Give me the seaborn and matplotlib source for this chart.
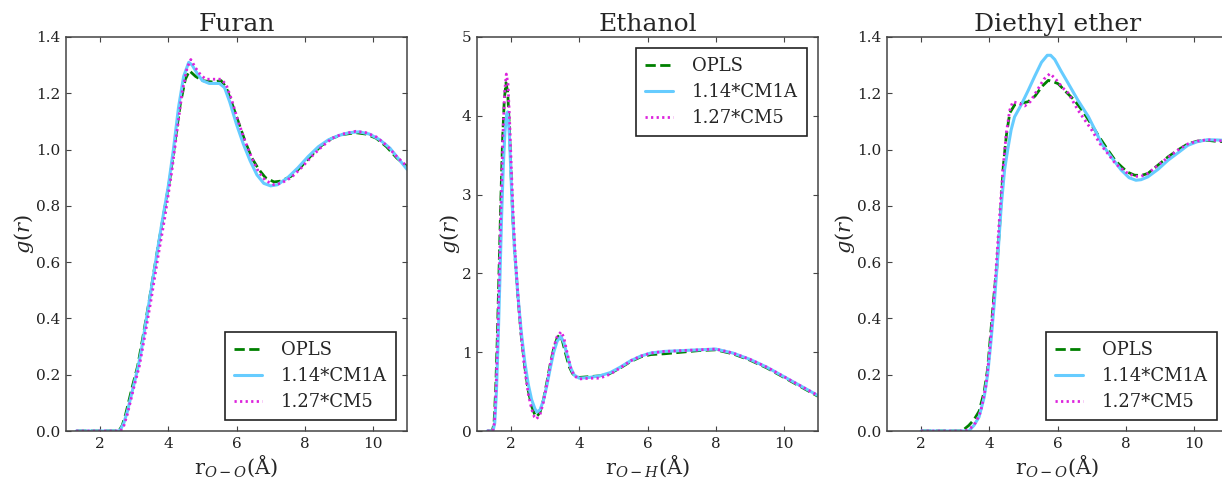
import numpy as np
import pandas as pd
import matplotlib
matplotlib.use("Agg")
import matplotlib.pyplot as plt
import seaborn as sns

# ---------------- data: radial distribution functions g(r) ----------------
series_names = ["OPLS", "1.14*CM1A", "1.27*CM5"]
panel_titles = ["Furan", "Ethanol", "Diethyl ether"]
x_labels = [r"r$_{O-O}$(Å)", r"r$_{O-H}$(Å)", r"r$_{O-O}$(Å)"]

# Furan, O-O
furan_opls_r = [1.3, 2.55, 2.65, 2.75, 2.85, 2.95, 3.1, 3.25, 3.45, 3.65, 3.85, 3.95, 4.05, 4.2, 4.35, 4.5, 4.62,
                4.8, 5.0, 5.3, 5.55, 5.7, 5.85, 6.05, 6.25, 6.45, 6.65, 6.85, 7.1, 7.3, 7.6, 7.9, 8.2, 8.5, 8.8,
                9.1, 9.5, 9.8, 10.1, 10.4, 10.7, 11.0]
furan_opls_g = [0.0, 0.0, 0.02, 0.06, 0.11, 0.16, 0.23, 0.33, 0.47, 0.62, 0.76, 0.83, 0.9, 1.03, 1.16, 1.25, 1.28,
                1.26, 1.245, 1.24, 1.245, 1.22, 1.17, 1.1, 1.03, 0.97, 0.93, 0.9, 0.885, 0.888, 0.905, 0.94, 0.98,
                1.015, 1.04, 1.053, 1.06, 1.055, 1.04, 1.01, 0.97, 0.94]
furan_cm1a_r = [1.3, 2.55, 2.6, 2.7, 2.8, 2.9, 3.0, 3.1, 3.2, 3.4, 3.6, 3.8, 3.9, 4.0, 4.15, 4.3, 4.45, 4.6, 4.7,
                4.85, 5.0, 5.2, 5.5, 5.65, 5.8, 6.0, 6.2, 6.4, 6.6, 6.8, 7.0, 7.2, 7.5, 7.8, 8.1, 8.4, 8.7, 9.0,
                9.3, 9.6, 9.9, 10.2, 10.5, 10.8, 11.0]
furan_cm1a_g = [0.0, 0.0, 0.005, 0.03, 0.07, 0.12, 0.17, 0.22, 0.28, 0.43, 0.58, 0.73, 0.8, 0.87, 1.0, 1.15, 1.26,
                1.31, 1.3, 1.27, 1.245, 1.235, 1.235, 1.22, 1.17, 1.09, 1.02, 0.96, 0.91, 0.88, 0.871, 0.875, 0.9,
                0.935, 0.975, 1.01, 1.035, 1.05, 1.06, 1.063, 1.055, 1.035, 1.005, 0.96, 0.93]
furan_cm5_r = [1.3, 2.6, 2.7, 2.8, 2.9, 3.0, 3.15, 3.3, 3.5, 3.7, 3.9, 4.0, 4.1, 4.25, 4.4, 4.55, 4.66, 4.8, 4.95,
               5.1, 5.3, 5.55, 5.7, 5.85, 6.05, 6.25, 6.45, 6.65, 6.85, 7.1, 7.3, 7.6, 7.9, 8.2, 8.5, 8.8, 9.1,
               9.5, 9.8, 10.1, 10.4, 10.7, 11.0]
furan_cm5_g = [0.0, 0.0, 0.02, 0.06, 0.11, 0.16, 0.23, 0.33, 0.47, 0.62, 0.76, 0.84, 0.92, 1.06, 1.2, 1.29, 1.32,
               1.29, 1.265, 1.25, 1.25, 1.25, 1.23, 1.18, 1.1, 1.03, 0.97, 0.92, 0.89, 0.875, 0.88, 0.9, 0.935,
               0.975, 1.01, 1.04, 1.055, 1.065, 1.06, 1.045, 1.015, 0.975, 0.94]

# Ethanol, O-H
ethanol_opls_r = [1.3, 1.45, 1.5, 1.55, 1.6, 1.65, 1.7, 1.75, 1.8, 1.85, 1.9, 1.95, 2.0, 2.05, 2.1, 2.2, 2.3, 2.4,
                  2.5, 2.6, 2.7, 2.75, 2.85, 2.95, 3.05, 3.15, 3.25, 3.35, 3.42, 3.5, 3.6, 3.7, 3.8, 3.9, 4.0,
                  4.3, 4.6, 4.9, 5.2, 5.5, 5.8, 6.1, 6.5, 7.0, 7.5, 8.0, 8.5, 9.0, 9.5, 10.0, 10.5, 11.0]
ethanol_opls_g = [0.0, 0.0, 0.1, 0.55, 1.25, 2.1, 2.95, 3.7, 4.2, 4.42, 4.3, 3.85, 3.25, 2.7, 2.3, 1.7, 1.2, 0.82,
                  0.52, 0.32, 0.2, 0.18, 0.24, 0.4, 0.62, 0.85, 1.05, 1.18, 1.22, 1.15, 0.98, 0.82, 0.73, 0.69,
                  0.68, 0.69, 0.7, 0.73, 0.8, 0.88, 0.94, 0.97, 0.98, 1.0, 1.02, 1.03, 0.98, 0.9, 0.8, 0.68,
                  0.56, 0.44]
ethanol_cm1a_r = [1.3, 1.47, 1.52, 1.57, 1.62, 1.67, 1.72, 1.77, 1.82, 1.87, 1.9, 1.95, 2.0, 2.05, 2.1, 2.2, 2.3,
                  2.4, 2.5, 2.6, 2.7, 2.76, 2.85, 2.95, 3.05, 3.15, 3.25, 3.35, 3.46, 3.55, 3.65, 3.75, 3.85,
                  4.0, 4.3, 4.6, 4.9, 5.2, 5.5, 5.8, 6.1, 6.5, 7.0, 7.5, 8.0, 8.5, 9.0, 9.5, 10.0, 10.5, 11.0]
ethanol_cm1a_g = [0.0, 0.0, 0.1, 0.5, 1.15, 1.9, 2.7, 3.35, 3.8, 4.02, 4.05, 3.75, 3.2, 2.7, 2.3, 1.72, 1.25,
                  0.88, 0.6, 0.4, 0.28, 0.24, 0.27, 0.39, 0.58, 0.8, 1.0, 1.14, 1.2, 1.12, 0.95, 0.8, 0.71,
                  0.67, 0.68, 0.7, 0.74, 0.81, 0.89, 0.95, 0.99, 1.01, 1.02, 1.03, 1.04, 0.99, 0.91, 0.81,
                  0.69, 0.57, 0.45]
ethanol_cm5_r = [1.3, 1.46, 1.51, 1.56, 1.61, 1.66, 1.71, 1.76, 1.81, 1.86, 1.91, 1.96, 2.01, 2.06, 2.11, 2.2,
                 2.3, 2.4, 2.5, 2.6, 2.68, 2.74, 2.85, 2.95, 3.05, 3.15, 3.25, 3.35, 3.47, 3.55, 3.65, 3.75,
                 3.85, 4.0, 4.3, 4.6, 4.9, 5.2, 5.5, 5.8, 6.1, 6.5, 7.0, 7.5, 8.0, 8.5, 9.0, 9.5, 10.0, 10.5,
                 11.0]
ethanol_cm5_g = [0.0, 0.0, 0.1, 0.55, 1.25, 2.1, 2.95, 3.75, 4.3, 4.53, 4.4, 3.9, 3.3, 2.75, 2.32, 1.72, 1.18,
                 0.78, 0.48, 0.28, 0.18, 0.15, 0.21, 0.37, 0.6, 0.85, 1.06, 1.2, 1.26, 1.18, 0.98, 0.8, 0.7,
                 0.66, 0.67, 0.67, 0.72, 0.8, 0.89, 0.95, 0.99, 1.01, 1.02, 1.03, 1.04, 0.99, 0.91, 0.81, 0.69,
                 0.57, 0.45]

# Diethyl ether, O-O
ether_opls_r = [2.0, 3.2, 3.3, 3.4, 3.55, 3.7, 3.85, 3.95, 4.05, 4.15, 4.22, 4.3, 4.41, 4.5, 4.6, 4.75, 4.95,
                5.14, 5.34, 5.55, 5.73, 5.9, 6.02, 6.25, 6.5, 6.75, 6.99, 7.25, 7.48, 7.7, 7.87, 8.05, 8.26,
                8.45, 8.65, 8.95, 9.24, 9.55, 9.82, 10.1, 10.4, 10.6, 11.0]
ether_opls_g = [0.0, 0.0, 0.01, 0.02, 0.04, 0.07, 0.14, 0.22, 0.36, 0.5, 0.58, 0.72, 0.94, 1.05, 1.13, 1.16, 1.165,
                1.17, 1.19, 1.225, 1.246, 1.24, 1.234, 1.205, 1.175, 1.135, 1.09, 1.04, 0.998, 0.96, 0.94, 0.92,
                0.909, 0.908, 0.915, 0.945, 0.974, 1.0, 1.02, 1.03, 1.033, 1.03, 1.027]
ether_cm1a_r = [2.0, 3.4, 3.55, 3.7, 3.85, 3.95, 4.05, 4.15, 4.25, 4.35, 4.45, 4.54, 4.64, 4.74, 4.94, 5.14, 5.33,
                5.53, 5.7, 5.8, 5.92, 6.1, 6.32, 6.6, 6.91, 7.1, 7.3, 7.6, 7.87, 8.1, 8.3, 8.45, 8.65, 8.95,
                9.24, 9.55, 9.82, 10.1, 10.4, 10.7, 11.0]
ether_cm1a_g = [0.0, 0.0, 0.02, 0.05, 0.12, 0.2, 0.32, 0.46, 0.62, 0.8, 0.93, 1.0, 1.07, 1.116, 1.16, 1.21, 1.26,
                1.31, 1.335, 1.335, 1.32, 1.28, 1.234, 1.175, 1.116, 1.07, 1.02, 0.97, 0.927, 0.9, 0.891, 0.893,
                0.903, 0.93, 0.962, 0.99, 1.015, 1.028, 1.035, 1.034, 1.032]
ether_cm5_r = [2.0, 3.3, 3.45, 3.6, 3.75, 3.9, 4.0, 4.1, 4.2, 4.3, 4.4, 4.5, 4.6, 4.69, 4.85, 5.04, 5.2, 5.4, 5.6,
               5.78, 5.95, 6.15, 6.32, 6.6, 7.0, 7.25, 7.48, 7.7, 8.0, 8.26, 8.45, 8.65, 8.95, 9.24, 9.55, 9.82,
               10.1, 10.4, 10.7, 11.0]
ether_cm5_g = [0.0, 0.0, 0.01, 0.03, 0.07, 0.16, 0.27, 0.42, 0.58, 0.76, 0.93, 1.06, 1.14, 1.17, 1.165, 1.155,
               1.17, 1.21, 1.25, 1.27, 1.25, 1.22, 1.2, 1.14, 1.07, 1.02, 0.985, 0.95, 0.92, 0.905, 0.905, 0.915,
               0.945, 0.972, 1.0, 1.02, 1.03, 1.035, 1.032, 1.028]

y_limits = [(0.0, 1.4), (0, 5), (0.0, 1.4)]
y_ticks = [[0.0, 0.2, 0.4, 0.6, 0.8, 1.0, 1.2, 1.4], [0, 1, 2, 3, 4, 5], [0.0, 0.2, 0.4, 0.6, 0.8, 1.0, 1.2, 1.4]]
y_tick_labels = [["0.0", "0.2", "0.4", "0.6", "0.8", "1.0", "1.2", "1.4"],
                 ["0", "1", "2", "3", "4", "5"],
                 ["0.0", "0.2", "0.4", "0.6", "0.8", "1.0", "1.2", "1.4"]]
x_ticks = [2, 4, 6, 8, 10]
legend_locs = ["lower right", "upper right", "lower right"]

panels = [
    [(furan_opls_r, furan_opls_g), (furan_cm1a_r, furan_cm1a_g), (furan_cm5_r, furan_cm5_g)],
    [(ethanol_opls_r, ethanol_opls_g), (ethanol_cm1a_r, ethanol_cm1a_g), (ethanol_cm5_r, ethanol_cm5_g)],
    [(ether_opls_r, ether_opls_g), (ether_cm1a_r, ether_cm1a_g), (ether_cm5_r, ether_cm5_g)],
]

# ---------------- styling ----------------
sns.set_theme(style="white")
plt.rcParams.update({
    "font.family": ["DejaVu Serif"],
    "mathtext.fontset": "dejavuserif",
    "xtick.direction": "in",
    "ytick.direction": "in",
    "xtick.top": True,
    "ytick.right": True,
    "xtick.bottom": True,
    "ytick.left": True,
    "xtick.major.size": 3.5,
    "ytick.major.size": 3.5,
    "xtick.major.width": 0.8,
    "ytick.major.width": 0.8,
    "xtick.color": "#444444",
    "ytick.color": "#444444",
    "axes.edgecolor": "#444444",
    "axes.linewidth": 1.1,
})

line_styles = {
    "OPLS": dict(color="green", dashes=(3.2, 2.6), lw=2.0),
    "1.14*CM1A": dict(color="#66CCFF", ls="-", lw=2.2),
    "1.27*CM5": dict(color="#DD22DD", ls=(0, (0.8, 1.2)), lw=2.0),
}

fig = plt.figure(figsize=(12.22, 4.86), dpi=100)
W, H = 1222.0, 486.0
ax_lefts = [66, 477, 887]
ax_w, ax_top, ax_bot = 341, 37, 431

for i in range(3):
    ax = fig.add_axes([ax_lefts[i] / W, 1 - ax_bot / H, ax_w / W, (ax_bot - ax_top) / H])
    for name, (r, g) in zip(series_names, panels[i]):
        df = pd.DataFrame({"r": r, "g": g})
        st = line_styles[name]
        kw = dict(color=st["color"], lw=st["lw"], label=name)
        if "dashes" in st:
            kw["dashes"] = st["dashes"]
            kw["linestyle"] = "--"
        else:
            kw["linestyle"] = st["ls"]
        sns.lineplot(data=df, x="r", y="g", ax=ax, sort=False, estimator=None, **kw)
    ax.set_xlim(1, 11)
    ax.set_ylim(*y_limits[i])
    ax.set_xticks(x_ticks)
    ax.set_xticklabels([str(t) for t in x_ticks])
    ax.set_yticks(y_ticks[i])
    ax.set_yticklabels(y_tick_labels[i])
    ax.tick_params(labelsize=11, labelcolor="#222222", pad=4)
    ax.set_title(panel_titles[i], fontsize=18, pad=4)
    ax.set_xlabel(x_labels[i], fontsize=15, labelpad=2)
    ax.set_ylabel(r"$g(r)$", fontsize=15, labelpad=0)
    for s in ax.spines.values():
        s.set_visible(True)
    leg = ax.legend(loc=legend_locs[i], fontsize=13, frameon=True, fancybox=False, framealpha=1,
                    handlelength=1.55, handletextpad=1.05, labelspacing=0.45, borderpad=0.5,
                    borderaxespad=0.6)
    leg.get_frame().set_edgecolor("#222222")
    leg.get_frame().set_linewidth(1.2)

fig.savefig("out.png", dpi=100)
